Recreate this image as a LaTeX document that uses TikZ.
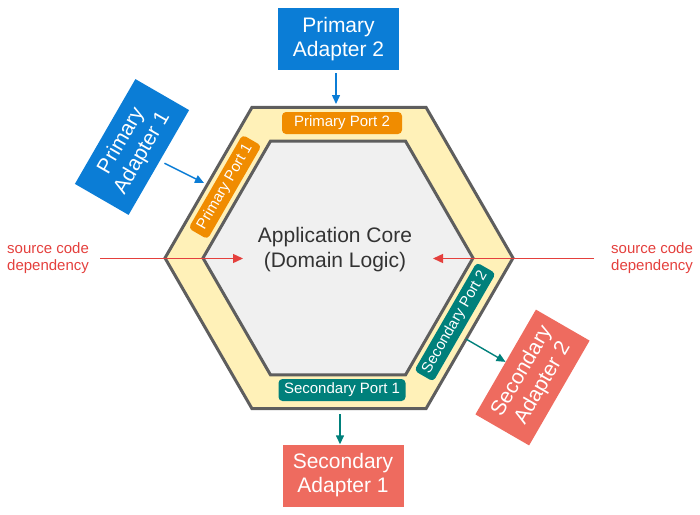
\documentclass[tikz,border=0pt]{standalone}
\usepackage{fontspec}
\setmainfont{Liberation Sans}
\usetikzlibrary{arrows.meta}
\definecolor{adapterblue}{HTML}{0B7DD6}
\definecolor{adaptersalmon}{HTML}{EE6B5F}
\definecolor{portorange}{HTML}{F08C00}
\definecolor{portteal}{HTML}{00807B}
\definecolor{hexyellow}{HTML}{FFF1B8}
\definecolor{coregray}{HTML}{F0F0F0}
\definecolor{hexborder}{HTML}{5E5E5E}
\definecolor{depred}{HTML}{E4403D}
\tikzset{
  adapter/.style={minimum width=121pt, minimum height=62pt, inner sep=0pt,
    text=white, align=center, font=\fontsize{21}{24}\selectfont},
  port/.style={rounded corners=4pt, minimum height=22pt, inner sep=0pt,
    text=white, font=\fontsize{15}{17}\selectfont},
  hexline/.style={draw=hexborder, line width=3pt},
  deptext/.style={text=depred, align=left, inner sep=0pt,
    font=\fontsize{15}{17}\selectfont},
  deparrow/.style={draw=depred, line width=1.4pt, -{Triangle[length=10pt,width=9pt]}},
  inarrow/.style={draw=adapterblue, line width=1.4pt, -{Triangle[length=9pt,width=8pt]}},
  outarrow/.style={draw=portteal, line width=1.4pt, -{Triangle[length=9pt,width=8pt]}}
}
\begin{document}
\begin{tikzpicture}[x=1pt,y=-1pt]
\useasboundingbox (0,0) rectangle (700,514);
% Hexagon: ports ring and core
\draw[hexline, fill=hexyellow, shift={(339,258)}] (0:174) -- (60:174) -- (120:174)
  -- (180:174) -- (240:174) -- (300:174) -- cycle;
\draw[hexline, fill=coregray, shift={(338,258)}] (0:135) -- (60:135) -- (120:135)
  -- (180:135) -- (240:135) -- (300:135) -- cycle;
\node[text=black!80, align=center, font=\fontsize{21}{25}\selectfont] (core) at (335,250)
  {Application Core\\(Domain Logic)};
% Ports
\node[port, fill=portorange, minimum width=120pt] (pp2) at (342,123) {Primary Port 2};
\node[port, fill=portorange, minimum width=108pt, rotate=60] (pp1) at (225,187) {Primary Port 1};
\node[port, fill=portteal, minimum width=127pt] (sp1) at (342,390) {Secondary Port 1};
\node[port, fill=portteal, minimum width=125pt, rotate=60] (sp2) at (455,322) {Secondary Port 2};
% Adapters
\node[adapter, fill=adapterblue] (pa2) at (338.5,39) {Primary\\Adapter 2};
\node[adapter, fill=adapterblue, rotate=60] (pa1) at (132,147) {Primary\\Adapter 1};
\node[adapter, fill=adaptersalmon] (sa1) at (343,475.5) {Secondary\\Adapter 1};
\node[adapter, fill=adaptersalmon, rotate=60] (sa2) at (532.5,377.5) {Secondary\\Adapter 2};
% Adapter connections
\coordinate (topedge) at (336,104);
\coordinate (leftedge) at (204,183);
\coordinate (bottomedge) at (340,414);
\coordinate (rightedge) at (466,339);
\draw[inarrow, shorten <=3pt] (pa2.south -| topedge) -- (topedge);
\draw[inarrow, shorten <=5pt] (pa1) -- (leftedge);
\draw[outarrow] (bottomedge) -- (sa1.north -| bottomedge);
\draw[outarrow] (rightedge) -- (sa2);
% Source code dependency
\node[deptext, anchor=west] (srcL) at (7,258.5) {source code\\dependency};
\node[deptext, anchor=west] (srcR) at (611,258.5) {source code\\dependency};
\coordinate (tipL) at (243,258.5);
\coordinate (tipR) at (433,258.5);
\draw[deparrow, shorten <=11pt] (srcL.east) -- (tipL);
\draw[deparrow, shorten <=17pt] (srcR.west) -- (tipR);
\end{tikzpicture}
\end{document}
